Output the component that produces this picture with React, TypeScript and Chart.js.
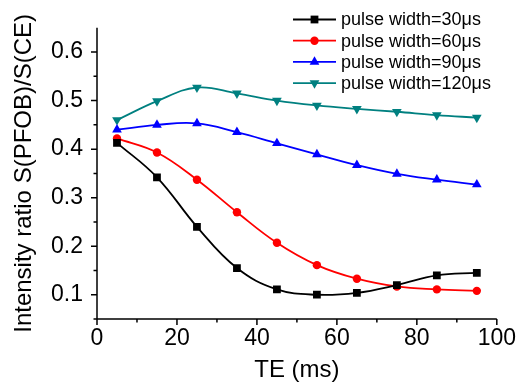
import { useEffect, useRef } from 'react';
import { Chart, registerables } from 'chart.js';

Chart.register(...registerables);

const TE = [5, 15, 25, 35, 45, 55, 65, 75, 85, 95];
const PW30 = [0.413, 0.342, 0.24, 0.155, 0.111, 0.1, 0.104, 0.12, 0.14, 0.145];
const PW60 = [0.422, 0.393, 0.337, 0.27, 0.207, 0.161, 0.133, 0.117, 0.111, 0.108];
const PW90 = [0.44, 0.45, 0.453, 0.435, 0.412, 0.389, 0.367, 0.349, 0.337, 0.327];
const PW120 = [0.46, 0.499, 0.527, 0.515, 0.5, 0.49, 0.483, 0.477, 0.47, 0.465];
const SERIES_LABELS = ['pulse width=30μs', 'pulse width=60μs', 'pulse width=90μs', 'pulse width=120μs'];
const X_TICKS = [0, 20, 40, 60, 80, 100];
const X_MINOR = [10, 30, 50, 70, 90];
const Y_TICKS = [0.1, 0.2, 0.3, 0.4, 0.5, 0.6];
const Y_MINOR = [0.05, 0.15, 0.25, 0.35, 0.45, 0.55];

const FONT = "'Liberation Sans', Arial, sans-serif";
const COLORS = ['#000000', '#ff0000', '#0000ff', '#008080'];
const STYLES = ['rect', 'circle', 'triangle', 'triangle'];
const ROT = [0, 0, 0, 180];
const RADII = [5.5, 4.2, 5.6, 5.6];

function drawMarker(ctx: CanvasRenderingContext2D, style: string, rot: number, r: number, x: number, y: number, color: string) {
  ctx.save();
  ctx.fillStyle = color;
  ctx.beginPath();
  if (style === 'rect') {
    const s = Math.SQRT1_2 * r;
    ctx.rect(x - s, y - s, 2 * s, 2 * s);
  } else if (style === 'circle') {
    ctx.arc(x, y, r, 0, Math.PI * 2);
  } else {
    const d = rot === 180 ? -1 : 1;
    const a = Math.PI / 6;
    ctx.moveTo(x, y - d * r);
    ctx.lineTo(x + Math.cos(a) * r, y + d * Math.sin(a) * r);
    ctx.lineTo(x - Math.cos(a) * r, y + d * Math.sin(a) * r);
    ctx.closePath();
  }
  ctx.fill();
  ctx.restore();
}

const axesPlugin = {
  id: 'axesPlugin',
  afterDraw(chart: any) {
    const ctx = chart.ctx as CanvasRenderingContext2D;
    const { left, right, top, bottom } = chart.chartArea;
    const xs = chart.scales.x;
    const ys = chart.scales.y;
    ctx.save();
    ctx.strokeStyle = '#000';
    ctx.lineWidth = 1.5;
    ctx.beginPath();
    ctx.moveTo(left, top);
    ctx.lineTo(left, bottom);
    ctx.lineTo(right, bottom);
    for (const v of Y_TICKS) {
      const p = ys.getPixelForValue(v);
      ctx.moveTo(left, p);
      ctx.lineTo(left - 6, p);
    }
    for (const v of Y_MINOR) {
      const p = ys.getPixelForValue(v);
      ctx.moveTo(left, p);
      ctx.lineTo(left - 3.5, p);
    }
    for (const v of X_TICKS) {
      const p = xs.getPixelForValue(v);
      ctx.moveTo(p, bottom);
      ctx.lineTo(p, bottom + 6);
    }
    for (const v of X_MINOR) {
      const p = xs.getPixelForValue(v);
      ctx.moveTo(p, bottom);
      ctx.lineTo(p, bottom + 3.5);
    }
    ctx.stroke();

    // legend
    const lx0 = 293;
    const lx1 = 336;
    const ly0 = 19.5;
    const dy = 21.2;
    ctx.font = `18px ${FONT}`;
    ctx.textBaseline = 'middle';
    ctx.textAlign = 'left';
    chart.data.datasets.forEach((ds: any, i: number) => {
      const y = ly0 + i * dy;
      ctx.strokeStyle = ds.borderColor;
      ctx.lineWidth = 1.8;
      ctx.beginPath();
      ctx.moveTo(lx0, y);
      ctx.lineTo(lx1, y);
      ctx.stroke();
      drawMarker(ctx, STYLES[i], ROT[i], RADII[i], (lx0 + lx1) / 2, y, ds.borderColor);
      ctx.fillStyle = '#000';
      ctx.fillText(ds.label, 341, y + 1);
    });
    ctx.restore();
  },
};

export default function App() {
  const ref = useRef<HTMLCanvasElement>(null);
  useEffect(() => {
    if (!ref.current) return;
    const series = [PW30, PW60, PW90, PW120];
    const chart = new Chart(ref.current, {
      type: 'line',
      data: {
        datasets: series.map((s, i) => ({
          label: SERIES_LABELS[i],
          data: s.map((y, j) => ({ x: TE[j], y })),
          borderColor: COLORS[i],
          backgroundColor: COLORS[i],
          borderWidth: 1.8,
          pointStyle: STYLES[i] as any,
          pointRotation: ROT[i],
          pointRadius: RADII[i],
          pointBorderWidth: 0,
          tension: 0.4,
          fill: false,
        })),
      },
      options: {
        animation: false,
        responsive: false,
        devicePixelRatio: 1,
        layout: { padding: { top: 20, right: 22, left: 0, bottom: 0 } },
        plugins: { legend: { display: false }, tooltip: { enabled: false } },
        scales: {
          x: {
            type: 'linear',
            min: 0,
            max: 100,
            grid: { display: false, drawTicks: false },
            border: { display: false },
            afterBuildTicks: (s: any) => {
              s.ticks = X_TICKS.map((v) => ({ value: v }));
            },
            afterFit: (s: any) => {
              s.height = 66;
            },
            ticks: {
              padding: 6,
              color: '#000',
              maxRotation: 0,
              font: { family: FONT, size: 23 },
              callback: (v: any) => String(v),
            },
            title: {
              display: true,
              text: 'TE (ms)',
              color: '#000',
              font: { family: FONT, size: 24 },
              padding: { top: 0, bottom: 0 },
            },
          },
          y: {
            type: 'linear',
            min: 0.05,
            max: 0.65,
            grid: { display: false, drawTicks: false },
            border: { display: false },
            afterBuildTicks: (s: any) => {
              s.ticks = Y_TICKS.map((v) => ({ value: v }));
            },
            afterFit: (s: any) => {
              s.width = 97;
            },
            ticks: {
              padding: 14,
              color: '#000',
              font: { family: FONT, size: 23 },
              callback: (v: any) => Number(v).toFixed(1),
            },
            title: {
              display: true,
              text: 'Intensity ratio S(PFOB)/S(CE)',
              color: '#000',
              font: { family: FONT, size: 24 },
              padding: { top: 10, bottom: 0 },
            },
          },
        },
      },
      plugins: [axesPlugin],
    });
    return () => chart.destroy();
  }, []);
  return (
    <div style={{ position: 'fixed', left: 0, top: 0, width: 522, height: 385, background: '#fff' }}>
      <canvas ref={ref} width={522} height={385} />
    </div>
  );
}
